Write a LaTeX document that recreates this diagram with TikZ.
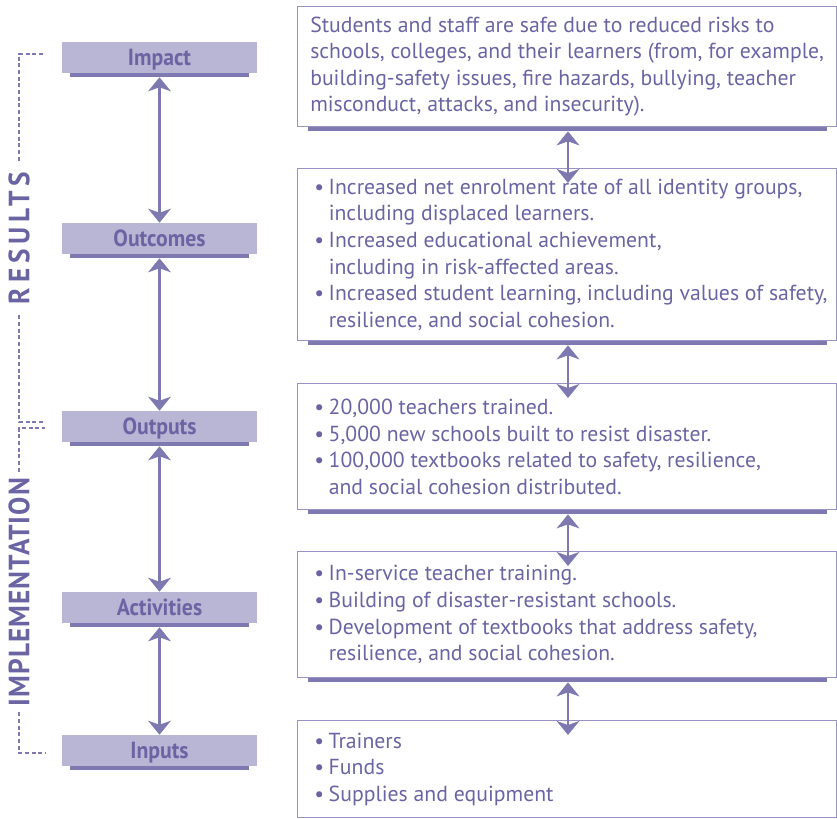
\documentclass[tikz,border=0pt]{standalone}
\usepackage{fontspec}
\setmainfont{PT Sans}
\newfontfamily\labfont{PT Sans}[FakeStretch=0.93]
\usepackage{xcolor}
\usepackage{tikz}
\usetikzlibrary{arrows.meta,calc}

\definecolor{lav}{HTML}{B9B5D5}
\definecolor{pur}{HTML}{7F79B2}
\definecolor{ink}{HTML}{6B64A3}
\definecolor{frame}{HTML}{9893C4}
\newcommand{\bl}{\hspace*{3pt}\textbullet\hspace{3.5pt}}
\newcommand{\ind}{\hspace*{3pt}\phantom{\textbullet}\hspace{3.5pt}}

\begin{document}
\begin{tikzpicture}[x=0.75pt,y=-0.75pt,
    lbox/.style={fill=lav,text=ink,inner sep=0pt,minimum width=146.25pt,minimum height=23.25pt,
        text height=12pt,text depth=0pt,
        font=\labfont\bfseries\fontsize{17.5}{17.5}\selectfont},
    rbox/.style={draw=frame,line width=1pt,anchor=north west,minimum width=404.25pt,inner sep=0pt},
    rtext/.style={anchor=west,align=left,text=ink,inner sep=0pt,
        font=\fontsize{16.3}{19.9}\selectfont},
    link/.style={draw=pur,line width=2.2pt,
        {Stealth[length=10.5pt,width=17pt,inset=3pt]}-{Stealth[length=10.5pt,width=17pt,inset=3pt]}},
    bracket/.style={draw=pur,line width=0.9pt,dash pattern=on 3pt off 2pt},
    side/.style={rotate=90,text=ink,font=\labfont\bfseries\fontsize{22}{22}\selectfont}]
    \useasboundingbox (0,0) rectangle (837,818);

    % left column
    \node[lbox] (impact) at (159.5,57.5) {Impact};
    \node[lbox] (outcomes) at (159.5,238.5) {Outcomes};
    \node[lbox] (outputs) at (159.5,426.5) {Outputs};
    \node[lbox] (activities) at (159.5,607.5) {Activities};
    \node[lbox] (inputs) at (159.5,750.5) {Inputs};
    \foreach \n in {impact,outcomes,outputs,activities,inputs}
        \fill[pur] ($(\n.south west)+(8,0)$) rectangle ($(\n.south east)+(-8,4)$);
    \draw[link] ($(impact.south)+(0,4)$) -- (outcomes.north);
    \draw[link] ($(outcomes.south)+(0,4)$) -- (outputs.north);
    \draw[link] ($(outputs.south)+(0,4)$) -- (activities.north);
    \draw[link] ($(activities.south)+(0,4)$) -- (inputs.north);

    % side brackets
    \node[side,inner xsep=8pt] (results) at (19,238) {\addfontfeature{LetterSpace=17}RESULTS};
    \node[side,inner xsep=4.5pt] (implementation) at (19,592) {\addfontfeature{LetterSpace=3.5}IMPLEMENTATION};
    \coordinate (rtop) at (45,54);
    \coordinate (rbot) at (45,422);
    \coordinate (itop) at (45,428);
    \coordinate (ibot) at (45,753);
    \draw[bracket] (results.east) |- (rtop);
    \draw[bracket] (results.west) |- (rbot);
    \draw[bracket] (implementation.east) |- (itop);
    \draw[bracket] (implementation.west) |- (ibot);

    % right column
    \node[rbox,minimum height=90pt] (impactbox) at (297,6) {};
    \node[rbox,minimum height=129pt] (outcomebox) at (297,168) {};
    \node[rbox,minimum height=94.5pt] (outputbox) at (297,383) {};
    \node[rbox,minimum height=94.5pt] (activitybox) at (297,551) {};
    \node[rbox,minimum height=72.75pt] (inputbox) at (297,720) {};
    \foreach \n in {impactbox,outcomebox,outputbox,activitybox}
        \fill[pur] ($(\n.south west)+(11,0)$) rectangle ($(\n.south east)+(-10,4)$);

    \node[rtext] (impacttxt) at ($(impactbox.west)+(13,0)$) {Students and staff are safe due to reduced risks to\\
        schools, colleges, and their learners (from, for example,\\
        building-safety issues, fire hazards, bullying, teacher\\
        misconduct, attacks, and insecurity).};
    \node[rtext] (outcometxt) at ($(outcomebox.west)+(13,0)$) {\bl Increased net enrolment rate of all identity groups,\\
        \ind including displaced learners.\\
        \bl Increased educational achievement,\\
        \ind including in risk-affected areas.\\
        \bl Increased student learning, including values of safety,\\
        \ind resilience, and social cohesion.};
    \node[rtext] (outputtxt) at ($(outputbox.west)+(13,0)$) {\bl 20,000 teachers trained.\\
        \bl 5,000 new schools built to resist disaster.\\
        \bl 100,000 textbooks related to safety, resilience,\\
        \ind and social cohesion distributed.};
    \node[rtext] (activitytxt) at ($(activitybox.west)+(13,0)$) {\bl In-service teacher training.\\
        \bl Building of disaster-resistant schools.\\
        \bl Development of textbooks that address safety,\\
        \ind resilience, and social cohesion.};
    \node[rtext] (inputtxt) at ($(inputbox.west)+(13,0)$) {\bl Trainers\\
        \bl Funds\\
        \bl Supplies and equipment};

    \draw[link] ($(impactbox.south west)+(271,4)$) -- ($(outcomebox.north west)+(271,15)$);
    \draw[link] ($(outcomebox.south west)+(271,4)$) -- ($(outputbox.north west)+(271,15)$);
    \draw[link] ($(outputbox.south west)+(271,4)$) -- ($(activitybox.north west)+(271,15)$);
    \draw[link] ($(activitybox.south west)+(271,4)$) -- ($(inputbox.north west)+(271,15)$);
\end{tikzpicture}
\end{document}
